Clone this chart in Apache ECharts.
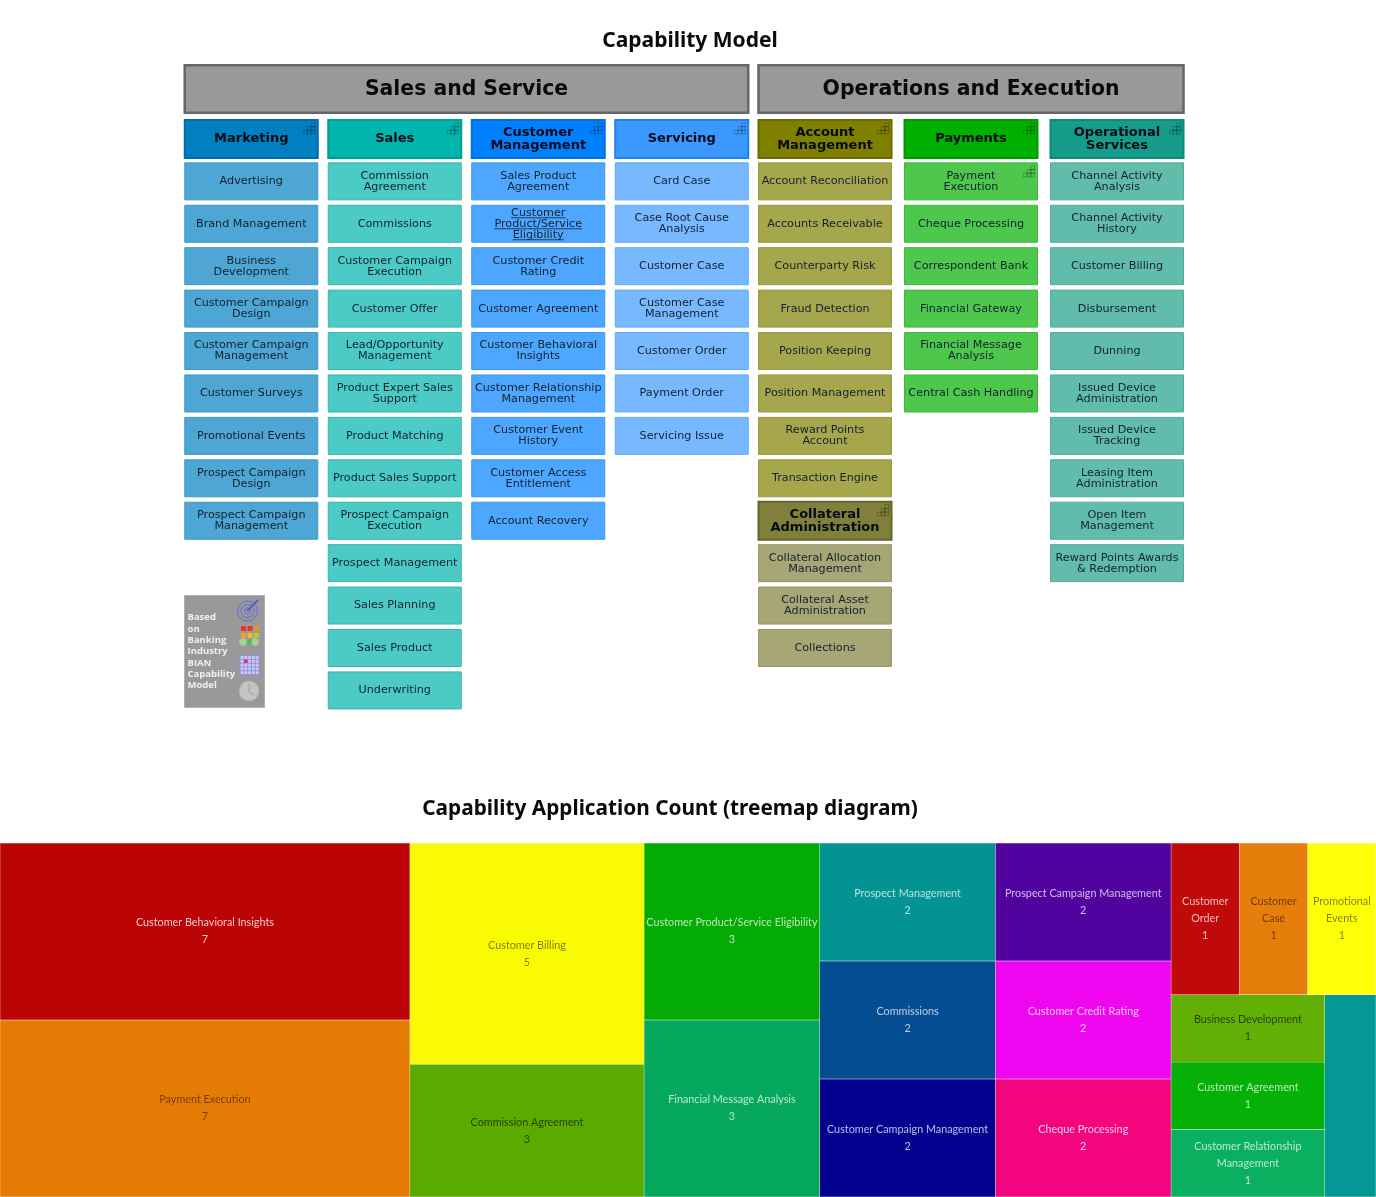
<!DOCTYPE html>
<html>
<head>
<meta charset="utf-8">
<title>Capability Model</title>
<script src="https://cdn.jsdelivr.net/npm/echarts@6/dist/echarts.min.js"></script>
<style>
  html, body { margin: 0; padding: 0; background: #fff; }
  #main { width: 1376px; height: 1197px; }
</style>
</head>
<body>
<div id="main"></div>
<script>
// capability model content
const groupNames = ['Sales and Service', 'Operations and Execution'];
const salesServiceHeaders = ['Marketing', 'Sales', 'Customer\nManagement', 'Servicing'];
const operationsHeaders = ['Account\nManagement', 'Payments', 'Operational\nServices'];

const marketingItems = ['Advertising', 'Brand Management', 'Business\nDevelopment', 'Customer Campaign\nDesign', 'Customer Campaign\nManagement', 'Customer Surveys', 'Promotional Events', 'Prospect Campaign\nDesign', 'Prospect Campaign\nManagement'];
const salesItems = ['Commission\nAgreement', 'Commissions', 'Customer Campaign\nExecution', 'Customer Offer', 'Lead/Opportunity\nManagement', 'Product Expert Sales\nSupport', 'Product Matching', 'Product Sales Support', 'Prospect Campaign\nExecution', 'Prospect Management', 'Sales Planning', 'Sales Product', 'Underwriting'];
const customerItems = ['Sales Product\nAgreement', 'Customer\nProduct/Service\nEligibility', 'Customer Credit\nRating', 'Customer Agreement', 'Customer Behavioral\nInsights', 'Customer Relationship\nManagement', 'Customer Event\nHistory', 'Customer Access\nEntitlement', 'Account Recovery'];
const servicingItems = ['Card Case', 'Case Root Cause\nAnalysis', 'Customer Case', 'Customer Case\nManagement', 'Customer Order', 'Payment Order', 'Servicing Issue'];
const accountItems = ['Account Reconciliation', 'Accounts Receivable', 'Counterparty Risk', 'Fraud Detection', 'Position Keeping', 'Position Management', 'Reward Points\nAccount', 'Transaction Engine'];
const collateralHeader = 'Collateral\nAdministration';
const collateralItems = ['Collateral Allocation\nManagement', 'Collateral Asset\nAdministration', 'Collections'];
const paymentItems = ['Payment\nExecution', 'Cheque Processing', 'Correspondent Bank', 'Financial Gateway', 'Financial Message\nAnalysis', 'Central Cash Handling'];
const operationalItems = ['Channel Activity\nAnalysis', 'Channel Activity\nHistory', 'Customer Billing', 'Disbursement', 'Dunning', 'Issued Device\nAdministration', 'Issued Device\nTracking', 'Leasing Item\nAdministration', 'Open Item\nManagement', 'Reward Points Awards\n& Redemption'];

const underlinedItems = ['Customer\nProduct/Service\nEligibility'];
const iconItems = ['Payment\nExecution', 'Collateral\nAdministration'];
const legendNote = 'Based\non\nBanking\nIndustry\nBIAN\nCapability\nModel';

// treemap content, line breaks where the cell is too narrow
const appNames = ['Customer Behavioral Insights', 'Payment Execution', 'Customer Billing', 'Commission Agreement', 'Customer Product/Service Eligibility', 'Financial Message Analysis', 'Prospect Management', 'Commissions', 'Customer Campaign Management', 'Prospect Campaign Management', 'Customer Credit Rating', 'Cheque Processing', 'Customer\nOrder', 'Customer\nCase', 'Promotional\nEvents', 'Business Development', 'Customer Agreement', 'Customer Relationship\nManagement', 'Customer Offer'];
const appCounts = [7, 7, 5, 3, 3, 3, 2, 2, 2, 2, 2, 2, 1, 1, 1, 1, 1, 1, 1];
const appColors = ['#bb0505', '#e57b05', '#fafa05', '#5aab00', '#05ab05', '#05a85c', '#039393', '#054d93', '#02028f', '#52029f', '#f005f0', '#f30580', '#c00a0a', '#e67e0c', '#ffff0a', '#62b006', '#06b006', '#0ab060', '#039795'];
const appLabelTones = ['rgba(255,255,255,.78)', 'rgba(0,0,0,.5)', 'rgba(0,0,0,.5)', 'rgba(0,0,0,.62)', 'rgba(255,255,255,.72)', 'rgba(255,255,255,.72)', 'rgba(255,255,255,.72)', 'rgba(255,255,255,.72)', 'rgba(255,255,255,.72)', 'rgba(255,255,255,.72)', 'rgba(255,255,255,.78)', 'rgba(255,255,255,.78)', 'rgba(255,255,255,.72)', 'rgba(0,0,0,.55)', 'rgba(0,0,0,.5)', 'rgba(0,0,0,.62)', 'rgba(255,255,255,.72)', 'rgba(255,255,255,.72)', 'rgba(255,255,255,.72)'];
const hiddenLabels = ['Customer Offer'];

// fill and border for header / child boxes
const palette = {
  marketing: ['#0080c0', '#006fa8', '#4da6d3', '#3d98c6'],
  sales: ['#00b5ad', '#009e95', '#4ccbc6', '#35b5ae'],
  customer: ['#0080ff', '#006fe0', '#4da6ff', '#3d96f0'],
  servicing: ['#3b98ff', '#1f80f0', '#78b8ff', '#62a8f5'],
  account: ['#808000', '#6a6a00', '#a6a64d', '#98983f'],
  payments: ['#00b000', '#009a00', '#4dc84d', '#40b840'],
  operational: ['#159c8a', '#0d8a78', '#62bcab', '#50ac9c'],
  collateral: ['#80803c', '#666628', '#a6a676', '#98986a']
};

const FONT = '"DejaVu Sans", Verdana, sans-serif';
const BOX_W = 133;
const BOX_H = 37;

// one flat list of boxes per grid, col + row drive the position
function buildCells(headers, itemLists, keys) {
  const cells = [];
  headers.forEach((h, col) => {
    const c = palette[keys[col]];
    cells.push({ col, row: 0, name: h, header: true, fill: c[0], border: c[1] });
    itemLists[col].forEach((name, i) => {
      cells.push({ col, row: i + 1, name, header: false, fill: c[2], border: c[3] });
    });
  });
  return cells;
}

const leftCells = buildCells(salesServiceHeaders, [marketingItems, salesItems, customerItems, servicingItems], ['marketing', 'sales', 'customer', 'servicing']);
const rightCells = buildCells(operationsHeaders, [accountItems, paymentItems, operationalItems], ['account', 'payments', 'operational']);

// collateral block continues under account management
const collateralRow = accountItems.length + 1;
rightCells.push({ col: 0, row: collateralRow, name: collateralHeader, header: true, fill: palette.collateral[0], border: palette.collateral[1] });
collateralItems.forEach((name, i) => {
  rightCells.push({ col: 0, row: collateralRow + 1 + i, name, header: false, fill: palette.collateral[2], border: palette.collateral[3] });
});

const measureCtx = document.createElement('canvas').getContext('2d');

function stairIcon(right, top) {
  // small staircase grid in the box corner
  const s = 3.7, out = [];
  [[2, 0], [1, 1], [2, 1], [0, 2], [1, 2], [2, 2]].forEach(p => {
    out.push({
      type: 'rect',
      shape: { x: right - 14 + p[0] * s, y: top + 3 + p[1] * s, width: s, height: s },
      style: { fill: 'none', stroke: 'rgba(0,0,0,.28)', lineWidth: 0.8 }
    });
  });
  return out;
}

function renderBox(cells) {
  return function (params, api) {
    const cell = cells[params.dataIndex];
    const p = api.coord([cell.col, cell.row]);
    const w = BOX_W;
    const h = cell.header ? BOX_H + 1 : BOX_H;
    const x = p[0] - w / 2, y = p[1] - h / 2;
    const fontSize = cell.header ? 13 : 11.2;
    const lineH = cell.header ? 13 : 11;
    const fontWeight = cell.header ? 'bold' : 'normal';
    const children = [{
      type: 'rect',
      shape: { x: x, y: y, width: w, height: h },
      style: { fill: cell.fill, stroke: cell.border, lineWidth: cell.header ? 2 : 1 }
    }, {
      type: 'text',
      style: {
        x: p[0], y: p[1], text: cell.name,
        align: 'center', verticalAlign: 'middle',
        font: fontWeight + ' ' + fontSize + 'px ' + FONT,
        lineHeight: lineH,
        fill: cell.header ? '#050a14' : '#14222e'
      }
    }];
    if (underlinedItems.indexOf(cell.name) >= 0) {
      measureCtx.font = fontSize + 'px ' + FONT;
      const lines = cell.name.split('\n');
      lines.forEach((line, i) => {
        const tw = measureCtx.measureText(line).width;
        const ly = p[1] - lines.length * lineH / 2 + (i + 1) * lineH - 0.5;
        children.push({
          type: 'line',
          shape: { x1: p[0] - tw / 2, y1: ly, x2: p[0] + tw / 2, y2: ly },
          style: { stroke: '#14222e', lineWidth: 0.8 }
        });
      });
    }
    if (cell.header || iconItems.indexOf(cell.name) >= 0) {
      stairIcon(x + w, y).forEach(c => children.push(c));
    }
    return { type: 'group', children };
  };
}

function renderBanner(names, lastCol) {
  return function (params, api) {
    const a = api.coord([0, -1.74]);
    const b = api.coord([lastCol, -0.62]);
    const x = a[0] - BOX_W / 2, w = b[0] + BOX_W / 2 - x;
    return {
      type: 'group',
      children: [{
        type: 'rect',
        shape: { x: x, y: a[1], width: w, height: b[1] - a[1] },
        style: { fill: '#999999', stroke: '#666666', lineWidth: 2.5 }
      }, {
        type: 'text',
        style: {
          x: x + w / 2, y: (a[1] + b[1]) / 2 + 0.5, text: names[params.dataIndex],
          align: 'center', verticalAlign: 'middle',
          font: 'bold 20.4px ' + FONT, fill: '#0a0a0a'
        }
      }]
    };
  };
}

// legend note box in the free corner under marketing
function noteGraphics() {
  const els = [{
    type: 'rect', shape: { x: 184.5, y: 595.5, width: 80, height: 112 },
    style: { fill: '#999999', stroke: '#b0b0b0', lineWidth: 1 }
  }, {
    type: 'text', style: {
      x: 187.5, y: 612, text: legendNote, fill: '#f0f0f0',
      font: 'bold 9.5px "Open Sans", sans-serif', lineHeight: 11.3
    }
  }];
  [10, 6.5, 3].forEach(r => {
    els.push({ type: 'circle', shape: { cx: 247.5, cy: 611, r }, style: { fill: 'none', stroke: '#6a6ae0', lineWidth: 1 } });
  });
  els.push({ type: 'line', shape: { x1: 247, y1: 611, x2: 258, y2: 600 }, style: { stroke: '#5a5ad8', lineWidth: 2 } });
  [['#f03020', '#f03020', '#f09020'], ['#f0a020', '#e8c020', '#b0d020']].forEach((row, r) => {
    row.forEach((c, i) => {
      els.push({ type: 'rect', shape: { x: 241 + i * 6.5, y: 626 + r * 7, width: 5, height: 5 }, style: { fill: c } });
    });
  });
  [[243, 642, '#a0d890'], [255, 642, '#a0d890']].forEach(d => {
    els.push({ type: 'circle', shape: { cx: d[0], cy: d[1], r: 3.5 }, style: { fill: d[2], stroke: '#b0b8c8', lineWidth: 1 } });
  });
  els.push({ type: 'rect', shape: { x: 247.5, y: 640, width: 4, height: 4 }, style: { fill: '#30d030' } });
  els.push({ type: 'rect', shape: { x: 239.5, y: 655, width: 20, height: 20 }, style: { fill: '#8a8ae0' } });
  for (let r = 0; r < 5; r++) {
    for (let c = 0; c < 5; c++) {
      els.push({
        type: 'rect',
        shape: { x: 240.5 + c * 3.8, y: 656 + r * 3.8, width: 3, height: 3 },
        style: { fill: r === 1 && c === 1 ? '#f02040' : '#c8c8f0' }
      });
    }
  }
  els.push({ type: 'circle', shape: { cx: 249, cy: 691, r: 10 }, style: { fill: '#c4c4c4', stroke: '#b0b0b0', lineWidth: 1 } });
  els.push({ type: 'polyline', shape: { points: [[249, 684], [249, 692], [254, 695]] }, style: { fill: 'none', stroke: '#a0a0a0', lineWidth: 1 } });
  return els;
}

const chart = echarts.init(document.getElementById('main'), null, { renderer: 'canvas' });

const treemapData = appNames.map((name, i) => ({
  name,
  value: appCounts[i],
  itemStyle: { color: appColors[i], borderWidth: 0.2, borderColor: '#ffffff', gapWidth: 0 },
  label: hiddenLabels.indexOf(name) >= 0 ? { show: false } : { color: appLabelTones[i] }
}));

const yAxisBase = { type: 'value', inverse: true, min: -2, max: 14, show: false };

chart.setOption({
  animation: false,
  backgroundColor: '#ffffff',
  title: [{
    text: 'Capability Model', left: 685, top: 25.5, textAlign: 'center',
    textStyle: { fontFamily: '"Noto Sans", sans-serif', fontWeight: 'bold', fontSize: 21, color: '#0a0a0a' }
  }, {
    text: 'Capability Application Count (treemap diagram)', left: 665, top: 793.5, textAlign: 'center',
    textStyle: { fontFamily: '"Noto Sans", sans-serif', fontWeight: 'bold', fontSize: 20.8, color: '#0a0a0a' }
  }],
  grid: [
    { left: 179.5, width: 574, top: 54.1, height: 678.72 },
    { left: 752, width: 438, top: 54.1, height: 678.72 }
  ],
  xAxis: [
    { type: 'category', gridIndex: 0, data: salesServiceHeaders, show: false },
    { type: 'category', gridIndex: 1, data: operationsHeaders, show: false }
  ],
  yAxis: [
    Object.assign({ gridIndex: 0 }, yAxisBase),
    Object.assign({ gridIndex: 1 }, yAxisBase)
  ],
  graphic: { elements: noteGraphics() },
  series: [{
    type: 'custom', xAxisIndex: 0, yAxisIndex: 0, clip: false, silent: true,
    renderItem: renderBanner([groupNames[0]], 3),
    encode: { x: 0, y: 1 },
    data: [[0, -1]]
  }, {
    type: 'custom', xAxisIndex: 1, yAxisIndex: 1, clip: false, silent: true,
    renderItem: renderBanner([groupNames[1]], 2),
    encode: { x: 0, y: 1 },
    data: [[0, -1]]
  }, {
    type: 'custom', xAxisIndex: 0, yAxisIndex: 0, clip: false, silent: true,
    renderItem: renderBox(leftCells),
    encode: { x: 0, y: 1 },
    data: leftCells.map(c => [c.col, c.row])
  }, {
    type: 'custom', xAxisIndex: 1, yAxisIndex: 1, clip: false, silent: true,
    renderItem: renderBox(rightCells),
    encode: { x: 0, y: 1 },
    data: rightCells.map(c => [c.col, c.row])
  }, {
    type: 'treemap',
    left: 0, top: 843, width: 1376, height: 354,
    roam: false, nodeClick: false,
    breadcrumb: { show: false },
    silent: true,
    sort: false,
    label: {
      show: true,
      position: 'inside',
      align: 'center',
      verticalAlign: 'middle',
      overflow: 'none',
      fontFamily: 'Lato',
      fontSize: 10.8,
      lineHeight: 17,
      formatter: '{b}\n{c}'
    },
    itemStyle: { borderWidth: 0, gapWidth: 0 },
    levels: [{ itemStyle: { borderWidth: 0, gapWidth: 0 } }],
    data: treemapData
  }]
});
</script>
</body>
</html>
